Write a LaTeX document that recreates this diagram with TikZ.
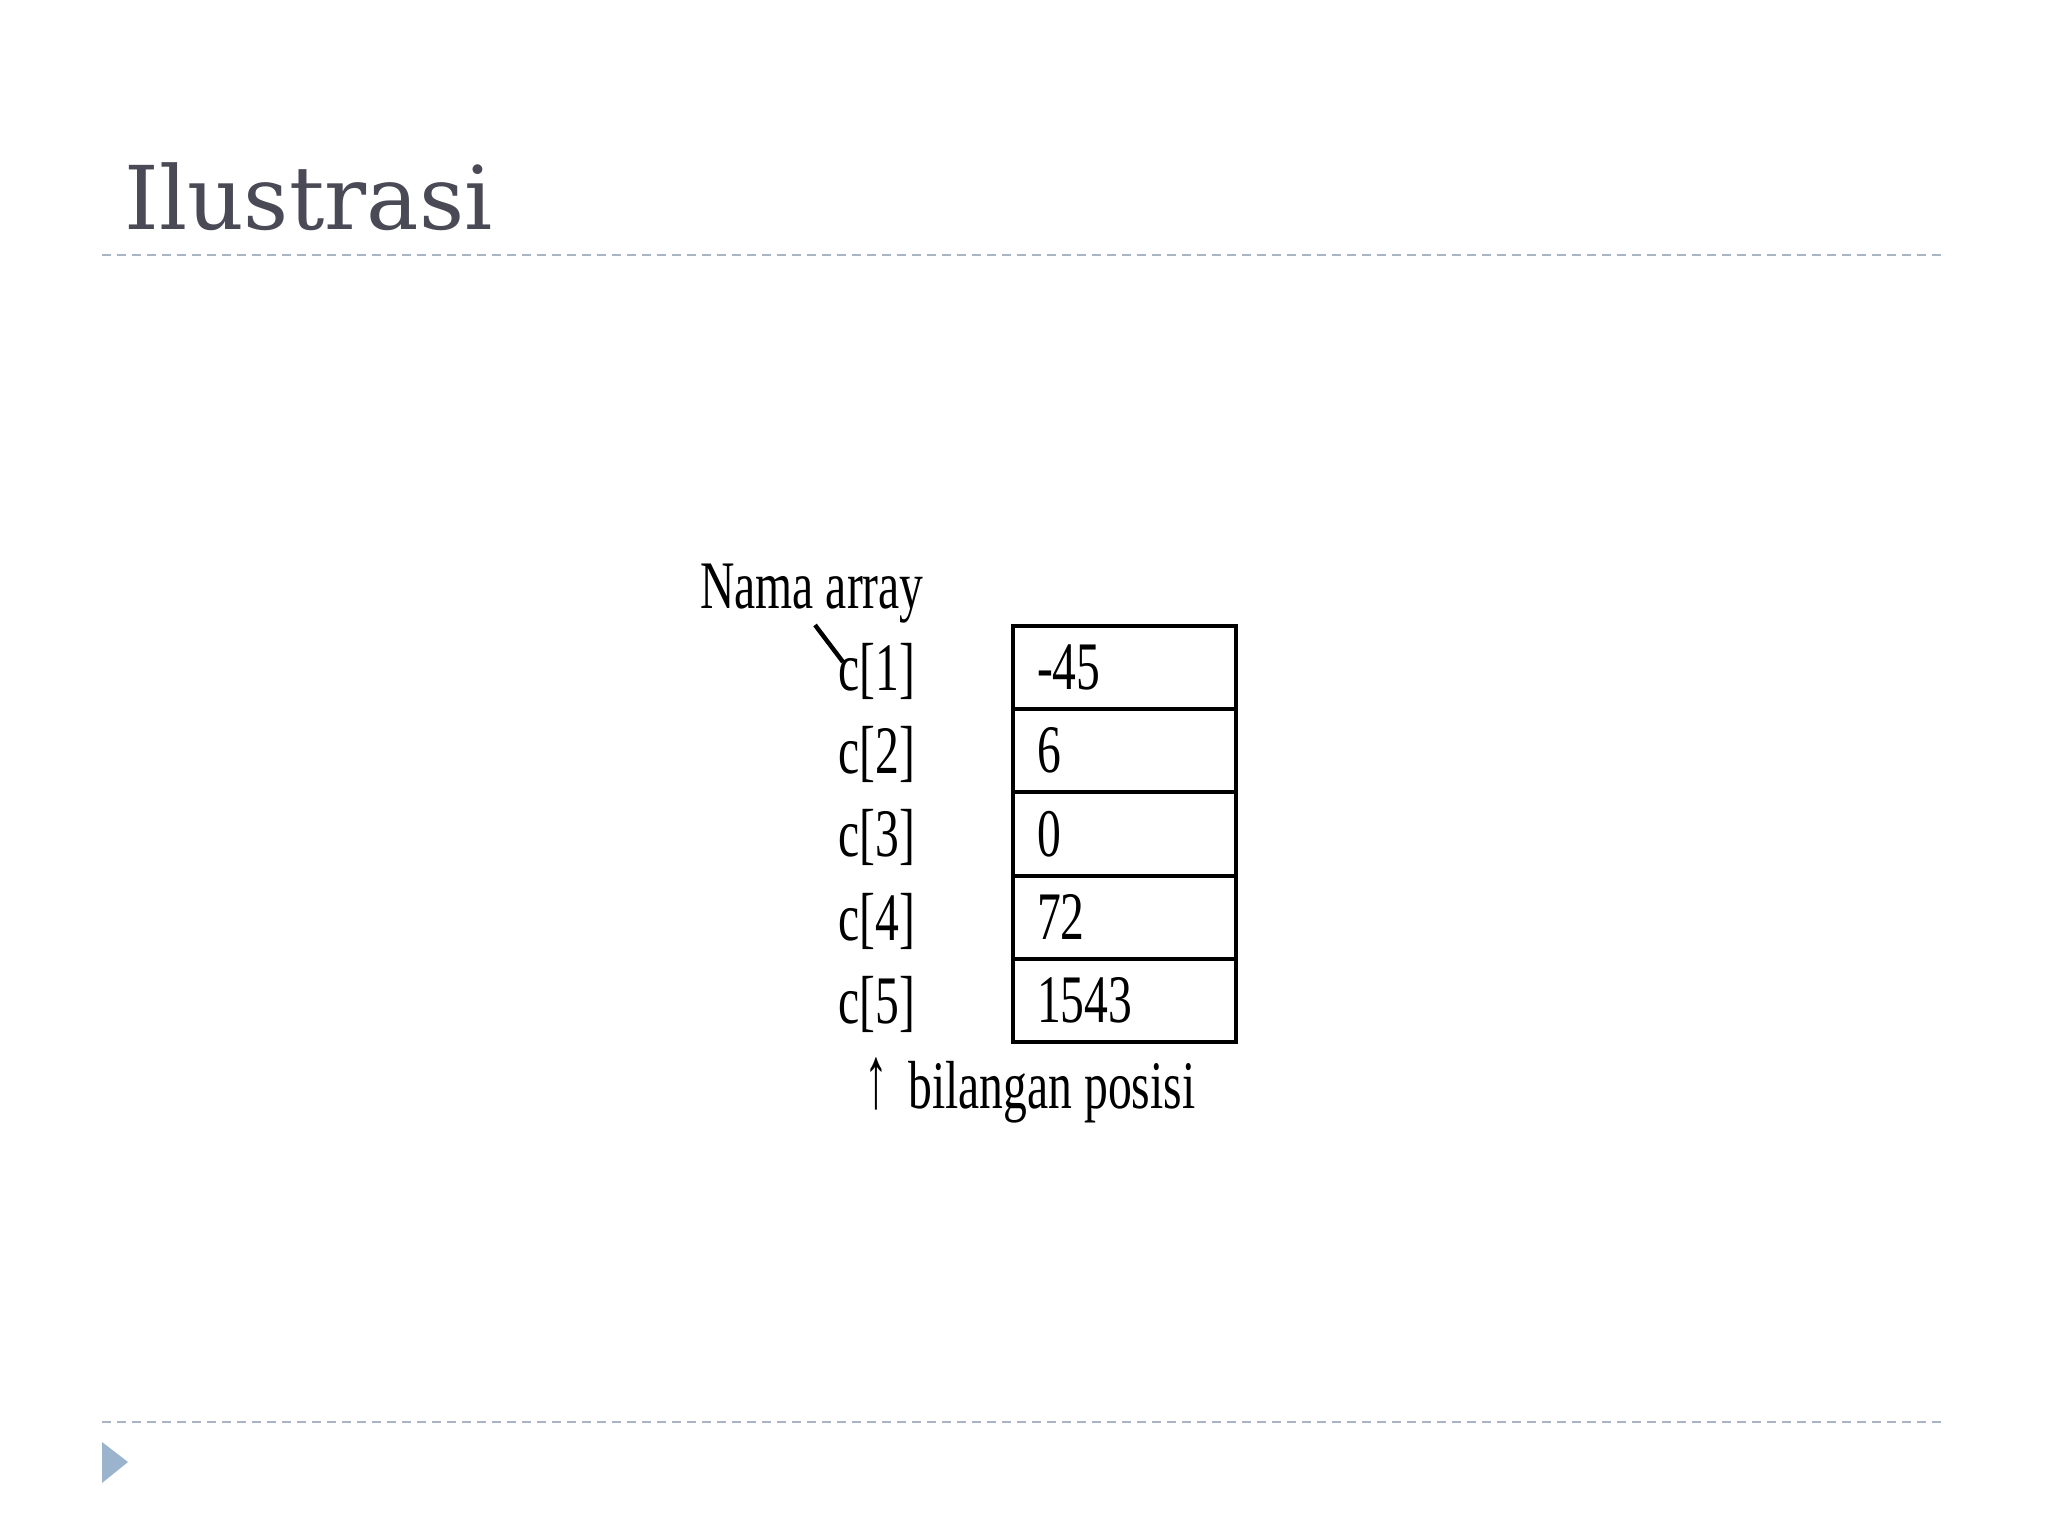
\documentclass[tikz,border=0pt]{standalone}
\usepackage{fontspec}
\setmainfont{Liberation Serif}
\newfontfamily\tnr[FakeStretch=0.7]{Liberation Serif}
\newfontfamily\titlefont{DejaVu Serif}
\definecolor{titlegray}{RGB}{74,74,86}
\definecolor{rulegray}{RGB}{169,181,194}
\definecolor{bulletblue}{RGB}{155,179,204}
\begin{document}
\begin{tikzpicture}[x=0.5pt,y=-0.5pt,
  txt/.style={inner sep=0pt, font=\tnr\fontsize{34pt}{40pt}\selectfont},
  cell/.style={draw=black, line width=2pt, inner xsep=12pt, inner ysep=0pt,
    text width=87.5pt, minimum height=41.6pt, align=left,
    font=\tnr\fontsize{34pt}{40pt}\selectfont},
  rulestyle/.style={rulegray, line width=1pt, dash pattern=on 4.5pt off 3pt}]
\useasboundingbox (0,0) rectangle (2048,1536);
\fill[white] (0,0) rectangle (2048,1536);
% title
\node[anchor=base west, inner sep=0pt, text=titlegray,
  font=\titlefont\fontsize{44pt}{50pt}\selectfont] (title) at (124,229) {Ilustrasi};
\coordinate (r1a) at (102,255); \coordinate (r1b) at (1945,255);
\coordinate (r2a) at (102,1422); \coordinate (r2b) at (1945,1422);
\draw[rulestyle] (r1a) -- (r1b);
\draw[rulestyle] (r2a) -- (r2b);
\fill[bulletblue] (102,1442) -- (128,1462) -- (102,1483) -- cycle;
% cells
\node[cell] (v1) at (1124.5,667.6) {-45};
\node[cell] (v2) at (1124.5,750.8) {6};
\node[cell] (v3) at (1124.5,834.0) {0};
\node[cell] (v4) at (1124.5,917.2) {72};
\node[cell] (v5) at (1124.5,1000.4) {1543};
% labels
\node[txt, anchor=base west] (c1) at (838,690) {c[1]};
\node[txt, anchor=base west] (c2) at (838,773) {c[2]};
\node[txt, anchor=base west] (c3) at (838,856) {c[3]};
\node[txt, anchor=base west] (c4) at (838,940) {c[4]};
\node[txt, anchor=base west] (c5) at (838,1023) {c[5]};
\node[txt, anchor=base west] (nama) at (700,608) {Nama array};
\coordinate (ptrstart) at (815,625);
\coordinate (ptrend) at (843,662);
\draw[line width=2.2pt] (ptrstart) -- (ptrend);
\node[txt, anchor=south] (up) at (876,1111) {\scalebox{1}[1.3]{↑}};
\node[txt, anchor=base west] (pos) at (908,1108) {bilangan posisi};
\end{tikzpicture}
\end{document}
